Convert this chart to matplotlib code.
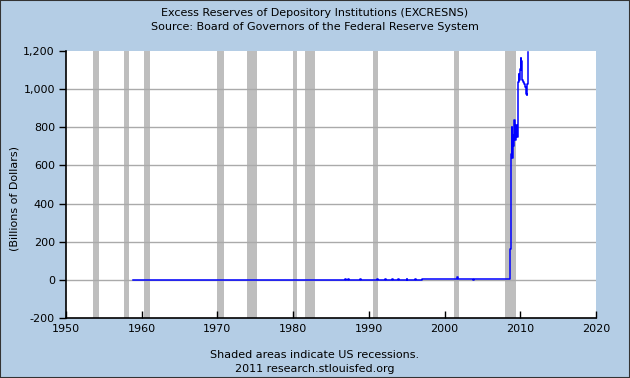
import matplotlib
matplotlib.use("Agg")
import matplotlib.pyplot as plt
from matplotlib.patches import Rectangle

# Excess reserves, billions of dollars
years = [1958.9, 1986.85, 1986.95, 1987.3, 1987.4, 1988.85, 1988.95, 1991.05, 1991.15,
         1992.15, 1992.25, 1993.05, 1993.15, 1993.9, 1994.0, 1995.0, 1995.1, 1996.15,
         1996.25, 1997.0, 1997.1, 1999.85, 1999.95, 2000.5, 2000.6, 2001.65, 2001.72,
         2003.8, 2003.88, 2008.62, 2008.75, 2008.84, 2008.88, 2008.93, 2008.97, 2009.01,
         2009.06, 2009.15, 2009.23, 2009.32, 2009.41, 2009.54, 2009.67, 2009.72, 2009.81,
         2009.89, 2009.94, 2010.03, 2010.11, 2010.16, 2010.25, 2010.33, 2010.47, 2010.60,
         2010.69, 2010.78, 2010.86, 2010.92, 2010.99, 2011.0]
reserves = [1.0, 5, 1.0, 5, 1.0, 5, 1.0, 5, 1.5,
            5, 1.5, 5, 1.5, 5, 1.5, 5, 1.5, 5,
            1.5, 5, 2.0, 5, 2.0, 5, 2.0, 16, 2.0,
            -3, 2.0, 160, 661, 784, 660, 801, 639, 760,
            700, 790, 840, 731, 810, 750, 819, 1038, 1081,
            1046, 1108, 1165, 1099, 1148, 1046, 1038, 1025, 1011,
            985, 976, 971, 1029, 1195, 1195]

# NBER recessions (start, end)
recessions = [(1953.5, 1954.4), (1957.6, 1958.3), (1960.3, 1961.1), (1969.9, 1970.9),
              (1973.9, 1975.2), (1980.0, 1980.55), (1981.5, 1982.9), (1990.6, 1991.2),
              (2001.2, 2001.9), (2007.95, 2009.45)]

bg = "#B4CDE5"
fig = plt.figure(figsize=(6.3, 3.78), dpi=100, facecolor=bg)
fig.patches.append(Rectangle((0, 0), 1, 1, transform=fig.transFigure, fill=False,
                             edgecolor="#333333", lw=1.5))
ax = fig.add_axes([66 / 630, 60 / 378, 530 / 630, 267 / 378])
ax.set_facecolor("white")

for start, end in recessions:
    ax.axvspan(start, end, color="#BEBEBE", lw=0, zorder=1)

for y in range(0, 1001, 200):
    ax.axhline(y, color="#AAAAAA", lw=1, zorder=2)

ax.plot(years, reserves, color="#0000FF", lw=1.1, drawstyle="steps-post", zorder=3)

ax.set_xlim(1950, 2020)
ax.set_ylim(-200, 1200)
ax.set_xticks(range(1950, 2021, 10))
ax.set_yticks(range(-200, 1201, 200))
ax.set_yticklabels([f"{v:,}" for v in range(-200, 1201, 200)])
ax.tick_params(axis="x", direction="in", length=5, width=1, labelsize=8, pad=4)
ax.tick_params(axis="y", direction="out", length=5, width=1, labelsize=8, pad=3)
for s in ["top", "right"]:
    ax.spines[s].set_visible(False)
for s in ["left", "bottom"]:
    ax.spines[s].set_linewidth(1.2)

ax.set_ylabel("(Billions of Dollars)", fontsize=8)
ax.yaxis.set_label_coords(-0.088, 0.446)

fig.text(0.5, 1 - 13 / 378, "Excess Reserves of Depository Institutions (EXCRESNS)",
         ha="center", va="center", fontsize=8)
fig.text(0.5, 1 - 27 / 378, "Source: Board of Governors of the Federal Reserve System",
         ha="center", va="center", fontsize=8)
fig.text(0.5, 1 - 355 / 378, "Shaded areas indicate US recessions.",
         ha="center", va="center", fontsize=8)
fig.text(0.5, 1 - 369 / 378, "2011 research.stlouisfed.org",
         ha="center", va="center", fontsize=8)

fig.savefig("out.png", dpi=100, facecolor=bg)
